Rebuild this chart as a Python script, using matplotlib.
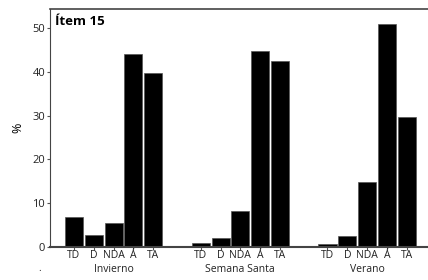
import numpy as np
import matplotlib.pyplot as plt

plt.rcParams['font.family'] = ['Open Sans', 'DejaVu Sans']
plt.rcParams['text.color'] = '#222222'
plt.rcParams['xtick.color'] = '#222222'
plt.rcParams['ytick.color'] = '#222222'

groups = ['Invierno', 'Semana Santa', 'Verano']
cats = ['TD', 'D', 'NDA', 'Á', 'TA']
invierno = [6.8, 2.6, 5.4, 44.0, 39.7]
semana_santa = [0.9, 2.1, 8.2, 44.8, 42.4]
verano = [0.6, 2.5, 14.7, 51.0, 29.6]
values = [invierno, semana_santa, verano]

fig = plt.figure(figsize=(4.28, 2.8), dpi=100)
ax = fig.add_axes([50/428, (280-246.7)/280, 390/428, (246.7-9)/280])

gap = 6.4
xs, labels = [], []
for g, vals in enumerate(values):
    x = g*gap + np.arange(len(cats))
    ax.bar(x, vals, width=0.91, color='black', edgecolor='#555555', linewidth=0.5)
    xs.extend(x)
    labels.extend(cats)
    ax.text(g*gap + 2, -0.095, groups[g], transform=ax.get_xaxis_transform(),
            ha='center', va='center', fontsize=7.5)

ax.set_xticks(xs)
ax.set_xticklabels(labels, fontsize=7.5)
ax.set_xlim(-1.21, 18.48)
ax.set_ylim(0, 54.4)
ax.set_yticks([0, 10, 20, 30, 40, 50])
ax.tick_params(axis='y', labelsize=8, length=2.5, pad=1, color='#555555')
ax.tick_params(axis='x', length=2, pad=0.5, color='#555555')
ax.set_ylabel('%', fontsize=9, labelpad=6)
for s in ['left', 'bottom', 'top']:
    ax.spines[s].set_color('#444444')
ax.spines['bottom'].set_linewidth(1.5)
ax.spines['top'].set_linewidth(1.2)
ax.spines['right'].set_visible(False)

ax.text(0.013, 0.975, 'Ítem 15', transform=ax.transAxes, fontsize=9.5,
        fontweight='bold', ha='left', va='top', color='black')
fig.text(40/428, 1 - 271/280, '.', fontsize=7, ha='center', va='baseline')

fig.savefig('out.png', dpi=100)
